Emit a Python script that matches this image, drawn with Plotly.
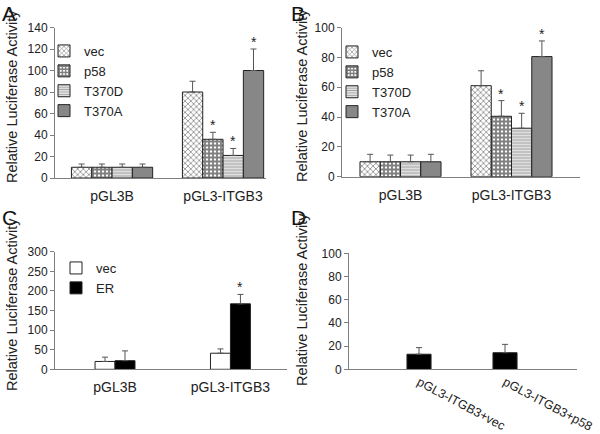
"""
Four-panel luciferase reporter figure (A-D).
"""

import plotly.graph_objects as go

FONT = "Liberation Sans, Arial, sans-serif"

groups = ["pGL3B", "pGL3-ITGB3"]

# Panel A
a_names = ["vec", "p58", "T370D", "T370A"]
a_vals = [[10, 80], [10, 36], [10, 21], [10, 100]]
a_errs = [[3, 10], [3, 6.5], [3, 6.5], [3, 20]]
a_stars = [[0, 0], [0, 1], [0, 1], [0, 1]]

# Panel B
b_names = ["vec", "p58", "T370D", "T370A"]
b_vals = [[10, 61], [10, 40.5], [10, 32.5], [10, 80.5]]
b_errs = [[5, 10], [4.5, 10.5], [4.5, 10], [5, 10.5]]
b_stars = [[0, 0], [0, 1], [0, 1], [0, 1]]

# Panel C
c_names = ["vec", "ER"]
c_vals = [[20, 41], [22, 167]]
c_errs = [[11, 11], [25, 24]]
c_stars = [[0, 0], [0, 1]]

# Panel D
d_groups = ["pGL3-ITGB3+vec", "pGL3-ITGB3+p58"]
d_vals = [13, 14.3]
d_errs = [5.7, 7.2]

# fill styles
patterns = {
    "vec": dict(color="white", pattern=dict(shape="x", fgcolor="#2a2a2a", bgcolor="white", size=4, solidity=0.4)),
    "p58": dict(color="white", pattern=dict(shape="+", fgcolor="black", bgcolor="white", size=4, solidity=0.7)),
    "T370D": dict(color="white", pattern=dict(shape="-", fgcolor="#555555", bgcolor="#f2f2f2", size=3, solidity=0.5)),
    "T370A": dict(color="#858585", pattern=dict(shape="-", fgcolor="#777777", bgcolor="#8c8c8c", size=2, solidity=0.5)),
}
c_fills = {"vec": "white", "ER": "black"}

fig = go.Figure()
annotations = []


def add_panel(names, vals, errs, stars, w, ax, legend, fills):
    n = len(names)
    xa = "x" if ax == 1 else f"x{ax}"
    ya = "y" if ax == 1 else f"y{ax}"
    for j, name in enumerate(names):
        off = (j - n / 2) * w
        fill = fills[name]
        marker = dict(fill) if isinstance(fill, dict) else dict(color=fill)
        marker["line"] = dict(color="#222", width=1)
        fig.add_trace(go.Bar(
            x=groups, y=vals[j], name=name, width=w, offset=off,
            marker=marker, xaxis=xa, yaxis=ya, legend=legend,
            error_y=dict(type="data", symmetric=False, array=errs[j],
                         arrayminus=[0] * len(groups), color="#555",
                         thickness=1, width=3),
        ))
        for gi in range(len(groups)):
            if stars[j][gi]:
                annotations.append(dict(
                    x=gi + off + w / 2, y=vals[j][gi] + errs[j][gi],
                    xref=xa, yref=ya, text="*", showarrow=False,
                    yanchor="bottom", yshift=-3,
                    font=dict(size=14, color="#222", family=FONT),
                ))


add_panel(a_names, a_vals, a_errs, a_stars, 0.183, 1, "legend", patterns)
add_panel(b_names, b_vals, b_errs, b_stars, 0.1825, 2, "legend2", patterns)
add_panel(c_names, c_vals, c_errs, c_stars, 0.173, 3, "legend3", c_fills)

fig.add_trace(go.Bar(
    x=d_groups, y=d_vals, width=0.28, offset=-0.14, showlegend=False,
    marker=dict(color="black", line=dict(color="#222", width=1)),
    xaxis="x4", yaxis="y4",
    error_y=dict(type="data", symmetric=False, array=d_errs, arrayminus=[0, 0],
                 color="#555", thickness=1, width=3),
))

H = 434.0
W = 600.0


def yax(top, bottom, rng, dtick, anchor):
    return dict(domain=[1 - bottom / H, 1 - top / H], range=rng, dtick=dtick,
                showline=True, linecolor="#808080", linewidth=1,
                ticks="outside", ticklen=4, tickcolor="#808080",
                showgrid=False, zeroline=False, anchor=anchor, automargin=False,
                tickfont=dict(size=12, color="#222", family=FONT))


def xax(left, right, rng, anchor, angle=0, size=14, standoff=5):
    return dict(domain=[left / W, right / W], range=rng, type="category",
                showline=True, linecolor="#808080", linewidth=1,
                ticks="", showgrid=False, zeroline=False, anchor=anchor,
                tickangle=angle, ticklabelstandoff=standoff, automargin=False,
                tickfont=dict(size=size, color="#222", family=FONT))


fig.update_layout(
    xaxis=xax(55, 266, [-0.514, 1.387], "y"),
    yaxis=yax(27.5, 178, [0, 140], 20, "x"),
    xaxis2=xax(342, 580, [-0.527, 1.617], "y2"),
    yaxis2=yax(27.5, 176.7, [0, 100], 20, "x2"),
    xaxis3=xax(55, 287, [-0.52, 1.49], "y3"),
    yaxis3=yax(251.7, 369.3, [0, 300], 50, "x3"),
    xaxis4=xax(349, 577, [-0.814, 1.837], "y4", angle=28, size=12.5, standoff=0),
    yaxis4=yax(253.3, 369.3, [0, 100], 20, "x4"),
)

leg_common = dict(font=dict(size=13, color="#222", family=FONT), bgcolor="rgba(0,0,0,0)",
                  xanchor="left", yanchor="top", itemclick=False, tracegroupgap=0)
fig.update_layout(
    legend=dict(x=44 / W, y=1 - 36 / H, **leg_common),
    legend2=dict(x=332 / W, y=1 - 37 / H, **leg_common),
    legend3=dict(x=56 / W, y=1 - 253 / H, **leg_common),
)

# panel letters
for letter, px, py in [("A", 0, 0), ("B", 289, 0), ("C", 0, 204), ("D", 289, 204)]:
    annotations.append(dict(x=px / W, y=1 - py / H, xref="paper", yref="paper",
                            xanchor="left", yanchor="top", text=letter, showarrow=False,
                            font=dict(size=21, color="#111", family=FONT)))

# y-axis titles
for px, py in [(12, 97), (302, 96), (12, 305), (302, 300)]:
    annotations.append(dict(x=px / W, y=1 - py / H, xref="paper", yref="paper",
                            xanchor="center", yanchor="middle", textangle=-90,
                            text="Relative Luciferase Activity", showarrow=False,
                            font=dict(size=14.5, color="#222", family=FONT)))

fig.update_layout(
    annotations=annotations,
    width=600, height=434,
    margin=dict(l=0, r=0, t=0, b=0, autoexpand=False),
    paper_bgcolor="white", plot_bgcolor="white",
    font=dict(family=FONT, color="#222"),
)

# drop the browser's default body margin so the 600x434 figure fills the window
fig.write_html("out.html", config={"displayModeBar": False},
               post_script="document.body.style.margin = '0';")
